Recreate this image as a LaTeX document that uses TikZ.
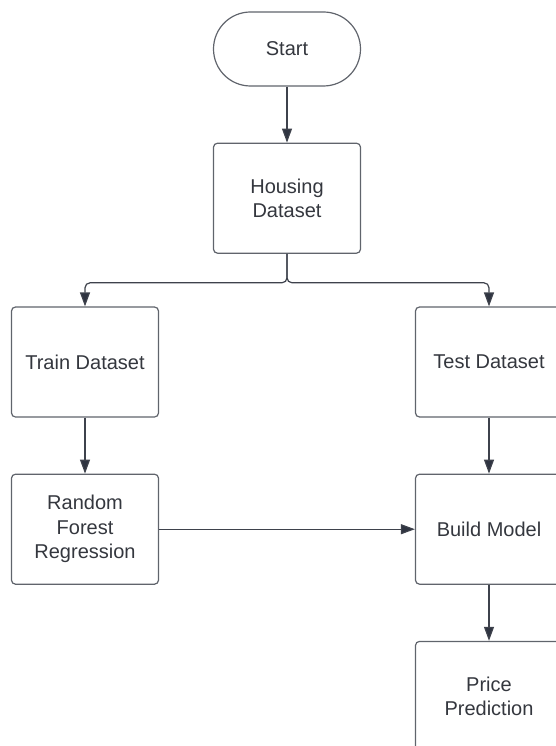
\documentclass[tikz,border=0pt]{standalone}
\usepackage{fontspec}
\setmainfont{Liberation Sans}
\usepackage{tikz}
\usetikzlibrary{
	arrows.meta,
	calc,
	positioning,
	shapes.misc
}
\definecolor{boxline}{HTML}{60646C}
\definecolor{flowline}{HTML}{3E424C}
\definecolor{tipfill}{HTML}{2F3441}
\definecolor{txt}{HTML}{34373E}

\begin{document}
\begin{tikzpicture}[x=1pt, y=1pt,
		box/.style={draw=boxline, line width=1.2pt, rounded corners=4pt, minimum width=147pt, minimum height=110pt, inner sep=0pt, align=center, text=txt, font=\fontsize{20}{24.5}\selectfont},
		term/.style={draw=boxline, line width=1.2pt, rounded rectangle, minimum width=147pt, minimum height=74pt, inner sep=0pt, text=txt, font=\fontsize{20}{24.5}\selectfont},
		flow/.style={draw=flowline, line width=1.2pt, -{Triangle[length=14pt, width=10pt, fill=tipfill]}}]
		\useasboundingbox (0,0) rectangle (556,-746);
		\node[term] (start) at (287,-49) {Start};
		\node[box, below=56pt of start] (housing) {Housing\\Dataset};
		\node[box] (train) at (85,-362) {Train Dataset};
		\node[box] (test) at (489,-362) {Test Dataset};
		\node[box, below=56pt of train] (forest) {Random\\Forest\\Regression};
		\node[box, below=56pt of test] (build) {Build Model};
		\node[box, below=56pt of build] (price) {Price\\Prediction};
		\coordinate (split) at ($(housing.south)+(0,-29)$);
		\draw[flow, rounded corners=5pt] (housing.south) -- (split) -| (train.north);
		\draw[flow, rounded corners=5pt] (housing.south) -- (split) -| (test.north);
		\foreach \a/\b in {start/housing, train/forest, test/build, build/price}
		\draw[flow] (\a.south) -- (\b.north);
		\draw[flow] (forest.east) -- (build.west);
	\end{tikzpicture}
\end{document}
